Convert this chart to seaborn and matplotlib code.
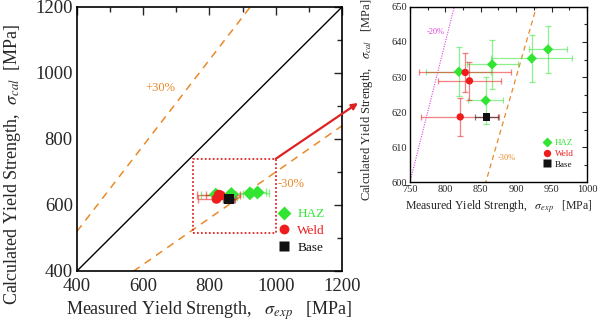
import numpy as np
import pandas as pd
import seaborn as sns
import matplotlib
matplotlib.use("Agg")
import matplotlib.pyplot as plt
from matplotlib.patches import Rectangle, ConnectionPatch

# ---------------- data ----------------
haz_exp = [819, 866, 857, 922, 945]
haz_cal = [631.5, 633.6, 623.3, 635.3, 637.9]
haz_xerr = [46, 36, 25, 57, 27]
haz_yerr = [7.0, 7.0, 6.7, 6.8, 6.8]

weld_exp = [828, 834, 821]
weld_cal = [631.3, 628.9, 618.6]
weld_xerr = [65, 45, 55]
weld_yerr = [5.5, 5.5, 5.5]

base_exp = [858]
base_cal = [618.6]
base_xerr = [16.5]
base_yerr = [0.6]

groups = ["HAZ", "Weld", "Base"]
ratios = {"+30%": 1.3, "-30%": 0.7, "-20%": 0.8}
main_ticks = [400, 600, 800, 1000, 1200]
inset_xticks = [750, 800, 850, 900, 950, 1000]
inset_yticks = [600, 610, 620, 630, 640, 650]

df = pd.DataFrame({
    "exp": haz_exp + weld_exp + base_exp,
    "cal": haz_cal + weld_cal + base_cal,
    "xerr": haz_xerr + weld_xerr + base_xerr,
    "yerr": haz_yerr + weld_yerr + base_yerr,
    "group": ["HAZ"] * len(haz_exp) + ["Weld"] * len(weld_exp) + ["Base"] * len(base_exp),
})

colors = {"HAZ": "#33e533", "Weld": "#ee1c1c", "Base": "#111111"}
markers = {"HAZ": "D", "Weld": "o", "Base": "s"}
orange = "#e88a2a"
magenta = "#dd44dd"

sns.set_style("white")
plt.rcParams["font.family"] = ["Liberation Serif", "DejaVu Serif"]
plt.rcParams["mathtext.fontset"] = "stix"

fig = plt.figure(figsize=(6.0, 3.27), dpi=100)
ax = fig.add_axes([0.1283, 0.1713, 0.4417, 0.8073])
axi = fig.add_axes([0.6833, 0.4434, 0.295, 0.5352])


def draw(a, ms, cap, elw):
    for g in groups:
        d = df[df.group == g]
        a.errorbar(d["exp"], d["cal"], xerr=d["xerr"], yerr=d["yerr"], fmt="none",
                   ecolor=colors[g], alpha=0.55, elinewidth=elw, capsize=cap,
                   capthick=elw, zorder=3)
    sns.scatterplot(data=df, x="exp", y="cal", hue="group", style="group",
                    palette=colors, markers=markers, hue_order=groups,
                    style_order=groups, s=ms, edgecolor="none", ax=a, zorder=5,
                    legend=True)


# ---------------- main axes ----------------
xs = np.array([400, 1200])
ax.plot(xs, xs, color="black", lw=1.0, zorder=2)
ax.plot(xs, ratios["+30%"] * xs, color=orange, lw=1.1, dashes=(5, 4), zorder=2)
ax.plot(xs, ratios["-30%"] * xs, color=orange, lw=1.1, dashes=(5, 4), zorder=2)
draw(ax, 50, 3, 1.0)
ax.add_patch(Rectangle((750, 515), 250, 225, fill=False, ec="#dd2a2a", lw=1.3,
                       ls=(0, (1, 1.2)), zorder=4))
ax.text(653, 956, "+30%", color=orange, fontsize=9, ha="center", va="center")
ax.text(1006, 665, "-30%", color=orange, fontsize=9, ha="left", va="center")

ax.set_xlim(400, 1200)
ax.set_ylim(400, 1200)
ax.set_xticks(main_ticks)
ax.set_yticks(main_ticks)
ax.set_xticks(np.arange(500, 1200, 200), minor=True)
ax.set_yticks(np.arange(500, 1200, 200), minor=True)
ax.tick_params(which="both", direction="in", top=True, right=True, labelsize=13.5,
               width=1.0, pad=3)
ax.tick_params(axis="x", which="major", pad=5)
ax.tick_params(which="major", length=6)
ax.tick_params(which="minor", length=3.5)
for s in ax.spines.values():
    s.set_linewidth(1.2)
    s.set_color("black")
ax.set_xlabel(r"Measured Yield Strength,   $\sigma_{exp}$   [MPa]", fontsize=13, labelpad=3)
ax.set_ylabel(r"Calculated Yield Strength,  $\sigma_{cal}$  [MPa]", fontsize=13)
ax.yaxis.set_label_coords(-0.205, 0.405)
h, l = ax.get_legend_handles_labels()
ax.legend(h, l, loc="lower right", bbox_to_anchor=(0.98, 0.02), frameon=False,
          fontsize=9.5, handletextpad=0.5, labelspacing=0.35, handlelength=1.0,
          labelcolor=[colors[g] for g in l])

# ---------------- inset ----------------
xi = np.array([700, 1000])
axi.plot(xi, ratios["-20%"] * xi, color=magenta, lw=0.8, ls=(0, (1, 1.2)), zorder=2)
axi.plot(xi, ratios["-30%"] * xi, color=orange, lw=0.9, dashes=(4, 3), zorder=2)
draw(axi, 28, 2.5, 0.9)
axi.text(774, 642.9, "-20%", color=magenta, fontsize=6, ha="left", va="center")
axi.text(874, 606.9, "-30%", color=orange, fontsize=6, ha="left", va="center")
axi.set_xlim(750, 1000)
axi.set_ylim(600, 650)
axi.set_xticks(inset_xticks)
axi.set_yticks(inset_yticks)
axi.set_xticks(np.arange(775, 1000, 50), minor=True)
axi.set_yticks(np.arange(605, 650, 10), minor=True)
axi.tick_params(which="both", direction="in", top=True, right=True, labelsize=7.5,
                width=0.8, pad=2)
axi.tick_params(which="major", length=3.5)
axi.tick_params(which="minor", length=2)
for s in axi.spines.values():
    s.set_linewidth(1.0)
    s.set_color("black")
axi.set_xlabel(r"Measured Yield Strength,   $\sigma_{exp}$   [MPa]", fontsize=8.5, labelpad=3)
axi.set_ylabel(r"Calculated Yield Strength,   $\sigma_{cal}$   [MPa]", fontsize=9)
axi.yaxis.set_label_coords(-0.2, 0.47)
h, l = axi.get_legend_handles_labels()
axi.legend(h, l, loc="lower right", bbox_to_anchor=(0.97, 0.03), frameon=False,
           fontsize=6.5, handletextpad=0.4, labelspacing=0.25, handlelength=1.0,
           labelcolor=[colors[g] for g in l])

# arrow from zoom box to inset
con = ConnectionPatch(xyA=(1000, 740), coordsA=ax.transData,
                      xyB=(358 / 600, 1 - 103 / 327), coordsB=fig.transFigure,
                      arrowstyle="-|>", color="#dd2222", lw=1.6, mutation_scale=9)
fig.add_artist(con)

fig.savefig("out.png", dpi=100)
